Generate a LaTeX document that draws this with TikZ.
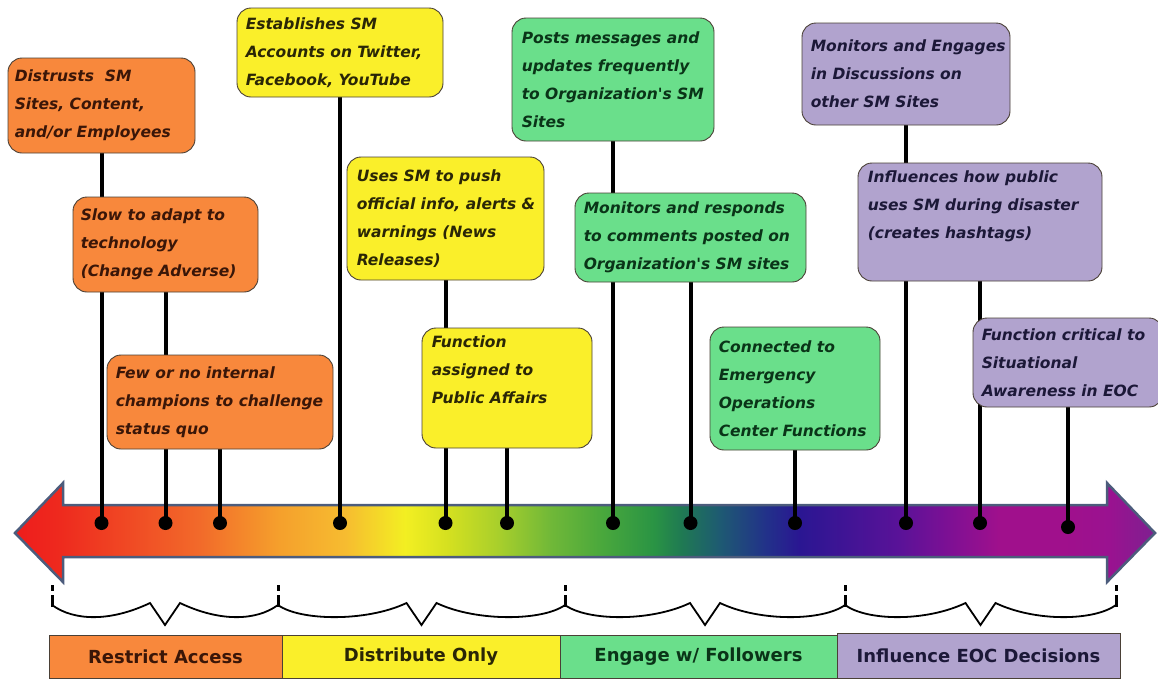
\documentclass[tikz,border=0pt]{standalone}
\usepackage{fontspec}
\setmainfont{DejaVu Sans}
\newfontfamily\plainfont{DejaVu Sans}
\usetikzlibrary{backgrounds}
\definecolor{orangeF}{HTML}{F8883C}
\definecolor{yellowF}{HTML}{FAEF2A}
\definecolor{greenF}{HTML}{6ADF8B}
\definecolor{purpleF}{HTML}{B1A3CE}
\definecolor{orangeT}{HTML}{3A1608}
\definecolor{yellowT}{HTML}{2A2606}
\definecolor{greenT}{HTML}{0A3418}
\definecolor{purpleT}{HTML}{1C1838}
\definecolor{boxline}{HTML}{4A4036}
\definecolor{arrowline}{HTML}{4C5C7C}
\definecolor{g0}{HTML}{EE1C1C}
\definecolor{g1}{HTML}{EE2A1E}
\definecolor{g2}{HTML}{F26A2A}
\definecolor{g3}{HTML}{F5A02C}
\definecolor{g4}{HTML}{F6BC30}
\definecolor{g5}{HTML}{F3EF22}
\definecolor{g6}{HTML}{D4E020}
\definecolor{g7}{HTML}{A6CE2C}
\definecolor{g8}{HTML}{70B838}
\definecolor{g9}{HTML}{4AA83C}
\definecolor{g10}{HTML}{2A9444}
\definecolor{g11}{HTML}{1F7A52}
\definecolor{g12}{HTML}{1E5A72}
\definecolor{g13}{HTML}{22308A}
\definecolor{g14}{HTML}{2A1692}
\definecolor{g15}{HTML}{5A1298}
\definecolor{g16}{HTML}{7E1094}
\definecolor{g17}{HTML}{A0108C}
\definecolor{g18}{HTML}{9A1290}
\definecolor{g19}{HTML}{7E2090}
\pgfdeclarehorizontalshading{rainbow}{100bp}{color(0bp)=(g0); color(25bp)=(g0); color(27bp)=(g1); color(33.1bp)=(g2); color(36.6bp)=(g3); color(39.5bp)=(g4); color(42.1bp)=(g5); color(44bp)=(g6); color(46.3bp)=(g7); color(48.5bp)=(g8); color(50.7bp)=(g9); color(53bp)=(g10); color(54.2bp)=(g11); color(55.9bp)=(g12); color(58bp)=(g13); color(59.4bp)=(g14); color(63.8bp)=(g15); color(66bp)=(g16); color(68.2bp)=(g17); color(71bp)=(g17); color(73bp)=(g18); color(75bp)=(g19); color(100bp)=(g19)}
\begin{document}
\begin{tikzpicture}[x=1pt,y=-1pt,
  box/.style={draw=boxline, line width=0.9pt, rounded corners=14pt, inner sep=0pt},
  txt/.style={anchor=west, align=left, inner sep=0pt,
    font=\plainfont\fontsize{15.5}{28}\selectfont\bfseries\itshape},
  conn/.style={line width=4pt, black},
  dot/.style={circle, fill=black, inner sep=0pt, minimum size=14pt},
  tickmark/.style={line width=3pt, black, dash pattern=on 6pt off 4pt on 20pt},
  bracepath/.style={line width=1.8pt, black, line join=miter},
  bar/.style={draw=boxline, line width=1pt, inner sep=0pt, minimum height=43pt,
    font=\fontsize{18}{20}\selectfont\bfseries}
]
\useasboundingbox (0,0) rectangle (1158,678);

% arrow
\begin{scope}[on background layer]
\shadedraw[shading=rainbow, draw=arrowline, line width=2.5pt, line join=miter]
  (15,533) -- (63,483) -- (63,505) -- (1107,505) -- (1107,483) -- (1155,533)
  -- (1107,582) -- (1107,557) -- (63,557) -- (63,582) -- cycle;
\end{scope}

% boxes: orange
\node[box, fill=orangeF, minimum width=187pt, minimum height=95pt] (b1) at (101.5,105.5) {};
\node[txt, text=orangeT] (t1) at ([xshift=7pt]b1.west) {Distrusts\ \ SM\\Sites, Content,\\and/or Employees};
\node[box, fill=orangeF, minimum width=185pt, minimum height=95pt] (b2) at (165.5,244.5) {};
\node[txt, text=orangeT] (t2) at ([xshift=8pt]b2.west) {Slow to adapt to\\technology\\(Change Adverse)};
\node[box, fill=orangeF, minimum width=226pt, minimum height=94pt] (b3) at (220,402) {};
\node[txt, text=orangeT] (t3) at ([xshift=9pt]b3.west) {Few or no internal\\champions to challenge\\status quo};
% yellow
\node[box, fill=yellowF, minimum width=206pt, minimum height=89pt] (b4) at (340,52.5) {};
\node[txt, text=yellowT] (t4) at ([xshift=9pt]b4.west) {Establishes SM\\Accounts on Twitter,\\Facebook, YouTube};
\node[box, fill=yellowF, minimum width=197pt, minimum height=123pt] (b5) at (445.5,218.5) {};
\node[txt, text=yellowT] (t5) at ([xshift=10pt]b5.west) {Uses SM to push\\official info, alerts \&\\warnings (News\\Releases)};
\node[box, fill=yellowF, minimum width=170pt, minimum height=120pt] (b6) at (507,388) {};
\node[txt, text=yellowT, anchor=north west] (t6) at ([xshift=10pt,yshift=-8pt]b6.north west) {Function\\assigned to\\Public Affairs};
% green
\node[box, fill=greenF, minimum width=202pt, minimum height=123pt] (b7) at (613,79.5) {};
\node[txt, text=greenT] (t7) at ([xshift=10pt]b7.west) {Posts messages and\\updates frequently\\to Organization's SM\\Sites};
\node[box, fill=greenF, minimum width=231pt, minimum height=89pt] (b8) at (690.5,237.5) {};
\node[txt, text=greenT] (t8) at ([xshift=9pt]b8.west) {Monitors and responds\\to comments posted on\\Organization's SM sites};
\node[box, fill=greenF, minimum width=170pt, minimum height=123pt] (b9) at (795,388.5) {};
\node[txt, text=greenT] (t9) at ([xshift=9pt]b9.west) {Connected to\\Emergency\\Operations\\Center Functions};
% purple
\node[box, fill=purpleF, minimum width=208pt, minimum height=102pt] (b10) at (906,74) {};
\node[txt, text=purpleT] (t10) at ([xshift=9pt]b10.west) {Monitors and Engages\\in Discussions on\\other SM Sites};
\node[box, fill=purpleF, minimum width=244pt, minimum height=118pt] (b11) at (980,222) {};
\node[txt, text=purpleT, anchor=north west] (t11) at ([xshift=10pt,yshift=-8pt]b11.north west) {Influences how public\\uses SM during disaster\\(creates hashtags)};
\node[box, fill=purpleF, minimum width=190pt, minimum height=89pt] (b12) at (1068,362.5) {};
\node[txt, text=purpleT] (t12) at ([xshift=9pt]b12.west) {Function critical to\\Situational\\Awareness in EOC};

% dots on the arrow
\node[dot] (d1) at (101.5,523) {};
\node[dot] (d2) at (165.5,523) {};
\node[dot] (d3) at (220,523) {};
\node[dot] (d4) at (340,523) {};
\node[dot] (d5) at (445.5,523) {};
\node[dot] (d6) at (507,523) {};
\node[dot] (d7) at (613,523) {};
\node[dot] (d8) at (690.5,523) {};
\node[dot] (d9) at (795,523) {};
\node[dot] (d10) at (906,523) {};
\node[dot] (d11) at (980,523) {};
\node[dot] (d12) at (1068,527) {};

% connectors (behind boxes)
\begin{scope}[on background layer]
\foreach \i in {1,...,12}{
  \draw[conn] (b\i.south) -- (d\i.center);
}
\end{scope}

% ticks and braces
\foreach \i/\x in {1/52,2/278,3/565,4/845,5/1116}{
  \coordinate (k\i) at (\x,585);
  \draw[tickmark] (k\i) -- ++(0,22);
}
\foreach \a/\b in {52/278,278/565,565/845,845/1116}{
  \pgfmathsetmacro{\m}{(\a+\b)/2}
  \draw[bracepath] (\a,605) .. controls ({\a+22},621) and ({\m-55},622) .. ({\m-15},603)
     -- (\m,625) -- ({\m+15},603) .. controls ({\m+55},622) and ({\b-22},621) .. (\b,605);
}

% bottom bars
\node[bar, fill=orangeF, text=orangeT, minimum width=233pt] (r1) at (165.5,656.5) {Restrict Access};
\node[bar, fill=yellowF, text=yellowT, minimum width=278pt] (r2) at (421,656.5) {Distribute Only};
\node[bar, fill=greenF, text=greenT, minimum width=277pt] (r3) at (698.5,656.5) {Engage w/ Followers};
\node[bar, fill=purpleF, text=purpleT, minimum width=283pt, minimum height=45pt] (r4) at (978.5,655.5) {Influence EOC Decisions};
\end{tikzpicture}
\end{document}
